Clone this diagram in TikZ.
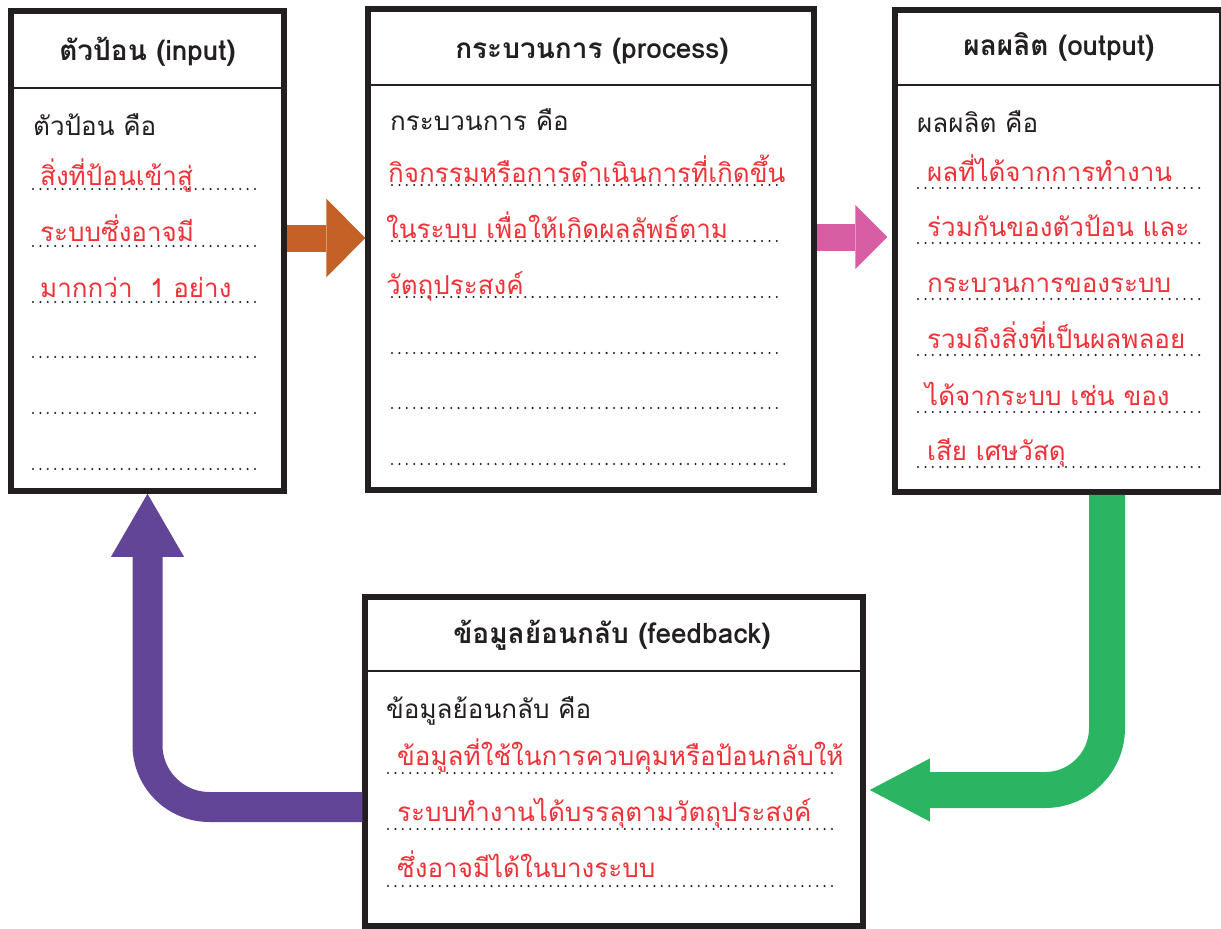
\documentclass[tikz,border=0pt]{standalone}
\usepackage{fontspec}
\newfontfamily\thaifont[Script=Thai]{Loma}
\usetikzlibrary{arrows.meta}
\definecolor{inkblack}{RGB}{35,31,32}
\definecolor{inkred}{RGB}{238,50,56}
\definecolor{arrorange}{RGB}{197,97,39}
\definecolor{arrpink}{RGB}{216,94,164}
\definecolor{arrgreen}{RGB}{43,180,98}
\definecolor{arrpurple}{RGB}{99,69,152}
\tikzset{
  box/.style={draw=inkblack, line width=5.5pt, rectangle, inner sep=0pt},
  headline/.style={draw=inkblack, line width=2.5pt},
  headtext/.style={font=\thaifont\bfseries\fontsize{28}{32}\selectfont, text=inkblack, anchor=base, inner sep=0pt},
  leadtext/.style={font=\thaifont\fontsize{26}{30}\selectfont, text=inkblack, anchor=base west, inner sep=0pt},
  answer/.style={font=\thaifont\fontsize{26}{30}\selectfont, text=inkred, anchor=base west, inner sep=0pt},
  dotline/.style={draw=inkblack, line width=2.3pt, dash pattern=on 0pt off 7.4pt, line cap=round},
}
\begin{document}
\begin{tikzpicture}[x=1pt, y=-1pt]
		\useasboundingbox (0,0) rectangle (1221,929);
		% Boxes
		\node [box, minimum width=273pt, minimum height=480pt] (input) at (147.5,251) {};
		\node [box, minimum width=446pt, minimum height=481pt] (process) at (591,249.5) {};
		\node [box, minimum width=327pt, minimum height=482pt] (output) at (1058.5,251) {};
		\node [box, minimum width=498pt, minimum height=329pt] (feedback) at (614,761.5) {};
		\draw [headline] (11,88) -- (284,88);
		\draw [headline] (368,85) -- (814,85);
		\draw [headline] (895,85) -- (1221,85);
		\draw [headline] (365,671) -- (863,671);
		% Input
		\node [headtext] (inputhead) at (147.5,60) {ตัวป้อน (input)};
		\node [leadtext] (inputlead) at (33,135) {ตัวป้อน คือ};
		\foreach \y in {189,246,302,357,469} \draw [dotline] (33,\y) -- (255,\y);
		\draw [dotline] (33,413) -- (262,413);
		\node [answer] (input1) at (40,185) {สิ่งที่ป้อนเข้าสู่};
		\node [answer] (input2) at (40,241) {ระบบซึ่งอาจมี};
		\node [answer] (input3) at (40,297) {มากกว่า~~1 อย่าง};
		% Process
		\node [headtext] (processhead) at (592,58) {กระบวนการ (process)};
		\node [leadtext] (processlead) at (390,130) {กระบวนการ คือ};
		\foreach \y in {185,241,297,353,408} \draw [dotline] (392,\y) -- (777,\y);
		\draw [dotline] (392,464) -- (787,464);
		\node [answer] (process1) at (388,182) {กิจกรรมหรือการดำเนินการที่เกิดขึ้น};
		\node [answer] (process2) at (386,238) {ในระบบ เพื่อให้เกิดผลลัพธ์ตาม};
		\node [answer] (process3) at (386,294) {วัตถุประสงค์};
		% Output
		\node [headtext] (outputhead) at (1059,55) {ผลผลิต (output)};
		\node [leadtext] (outputlead) at (917,132) {ผลผลิต คือ};
		\foreach \y in {188,243,299,355,412,467} \draw [dotline] (918,\y) -- (1200,\y);
		\node [answer] (output1) at (927,181) {ผลที่ได้จากการทำงาน};
		\node [answer] (output2) at (927,236) {ร่วมกันของตัวป้อน และ};
		\node [answer] (output3) at (927,292) {กระบวนการของระบบ};
		\node [answer] (output4) at (927,348) {รวมถึงสิ่งที่เป็นผลพลอย};
		\node [answer] (output5) at (925,405) {ได้จากระบบ เช่น ของ};
		\node [answer] (output6) at (927,460) {เสีย เศษวัสดุ};
		% Feedback
		\node [headtext] (feedbackhead) at (612,643) {ข้อมูลย้อนกลับ (feedback)};
		\node [leadtext] (feedbacklead) at (386,718) {ข้อมูลย้อนกลับ คือ};
		\foreach \y in {773,829,886} \draw [dotline] (388,\y) -- (837,\y);
		\node [answer] (feedback1) at (397,765) {ข้อมูลที่ใช้ในการควบคุมหรือป้อนกลับให้};
		\node [answer] (feedback2) at (397,821) {ระบบทำงานได้บรรลุตามวัตถุประสงค์};
		\node [answer] (feedback3) at (397,877) {ซึ่งอาจมีได้ในบางระบบ};
		% Arrows
		\draw [arrorange, line width=27pt, -{Triangle[width=79pt, length=39pt, line width=0pt]}] ([yshift=13pt]input.east) -- ([yshift=13pt]input.east -| process.west);
		\draw [arrpink, line width=27pt, shorten >=5pt, -{Triangle[width=64pt, length=32pt, line width=0pt]}] ([yshift=12.5pt]process.east) -- ([yshift=12.5pt]process.east -| output.west);
		\draw [arrgreen, line width=36pt, rounded corners=62pt, shorten >=4pt, -{Triangle[width=63pt, length=60pt, line width=0pt]}] ([xshift=48.5pt]output.south) |- ([yshift=-28.5pt]feedback.east);
		\draw [arrpurple, line width=30pt, rounded corners=62pt, -{Triangle[width=73pt, length=63pt, line width=0pt]}] ([yshift=-45.5pt]feedback.west) -| (input.south);
	\end{tikzpicture}
\end{document}
